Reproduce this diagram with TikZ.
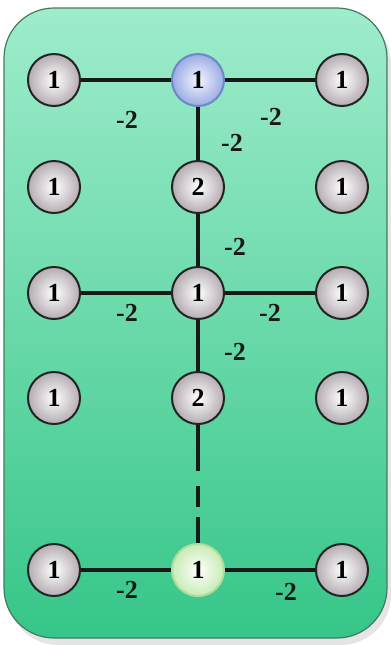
\documentclass[tikz,border=0pt]{standalone}
\usepackage{fontspec}
\setmainfont{Liberation Serif}
\usetikzlibrary{shadows}
\definecolor{bgtop}{RGB}{158,236,204}
\definecolor{bgbot}{RGB}{54,198,136}
\definecolor{bgedge}{RGB}{70,120,100}
\definecolor{ndedge}{RGB}{35,35,35}
\definecolor{ndout}{RGB}{180,172,178}
\definecolor{blueout}{RGB}{155,172,228}
\definecolor{blueedge}{RGB}{110,135,200}
\definecolor{greenout}{RGB}{200,236,180}
\definecolor{greenedge}{RGB}{175,220,160}
\tikzset{
  vert/.style={circle, draw=ndedge, line width=1pt, minimum size=26pt, inner sep=0pt,
    inner color=white, outer color=ndout, font=\fontsize{13}{15}\selectfont\bfseries},
  bluevert/.style={vert, draw=blueedge, inner color=blue!4, outer color=blueout},
  greenvert/.style={vert, draw=greenedge, inner color=white, outer color=greenout},
  edge/.style={line width=2pt, black!90},
  wlabel/.style={font=\fontsize{13}{15}\selectfont\bfseries, text=black!90, inner sep=0pt},
}
\begin{document}
\begin{tikzpicture}[x=0.5pt,y=-0.5pt]
\useasboundingbox (0,0) rectangle (391,645);
\fill[black!10, rounded corners=25pt] (8,14) rectangle (391,645);
\shade[top color=bgtop, bottom color=bgbot, draw=bgedge, line width=0.6pt, rounded corners=25pt] (4,8) rectangle (387,638);
% nodes
\node[vert] (a1) at (54,80) {1};
\node[bluevert] (a2) at (198,80) {1};
\node[vert] (a3) at (342,80) {1};
\node[vert] (b1) at (54,187) {1};
\node[vert] (b2) at (198,187) {2};
\node[vert] (b3) at (342,187) {1};
\node[vert] (c1) at (54,293) {1};
\node[vert] (c2) at (198,293) {1};
\node[vert] (c3) at (342,293) {1};
\node[vert] (d1) at (54,398) {1};
\node[vert] (d2) at (198,398) {2};
\node[vert] (d3) at (342,398) {1};
\node[vert] (e1) at (54,570) {1};
\node[greenvert] (e2) at (198,570) {1};
\node[vert] (e3) at (342,570) {1};
% edges
\draw[edge] (a1) -- (a2);
\draw[edge] (a2) -- (a3);
\draw[edge] (a2) -- (b2);
\draw[edge] (b2) -- (c2);
\draw[edge] (c1) -- (c2);
\draw[edge] (c2) -- (c3);
\draw[edge] (c2) -- (d2);
\draw[edge, dash pattern=on 23pt off 7.5pt on 10.5pt off 5pt on 20pt] (d2) -- (e2);
\draw[edge] (e1) -- (e2);
\draw[edge] (e2) -- (e3);
% labels
\node[wlabel] (l1) at (127,120) {-2};
\node[wlabel] (l2) at (271,117) {-2};
\node[wlabel] (l3) at (232,143) {-2};
\node[wlabel] (l4) at (235,247) {-2};
\node[wlabel] (l5) at (127,313) {-2};
\node[wlabel] (l6) at (270,313) {-2};
\node[wlabel] (l7) at (235,352) {-2};
\node[wlabel] (l8) at (127,590) {-2};
\node[wlabel] (l9) at (286,592) {-2};
\end{tikzpicture}
\end{document}
